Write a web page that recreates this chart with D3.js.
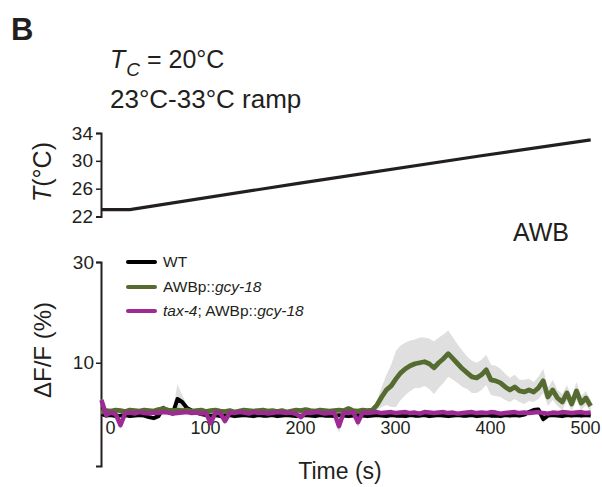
<!DOCTYPE html>
<html>
<head>
<meta charset="utf-8">
<script src="https://cdn.jsdelivr.net/npm/d3@7"></script>
<style>
  body { margin: 0; background: #fff; }
  text { font-family: "Liberation Sans", Arial, sans-serif; fill: #231f20; }
</style>
</head>
<body>
<div id="chart"></div>
<script>
// ====================
// Data
// ====================

// sample times (s), one frame every 5 s
const time = [-9, -4, 1, 6, 11, 16, 21, 26, 31, 36, 41, 46, 51, 56, 61, 66, 71, 76, 81, 86,
  91, 96, 101, 106, 111, 116, 121, 126, 131, 136, 141, 146, 151, 156, 161, 166, 171, 176, 181, 186,
  191, 196, 201, 206, 211, 216, 221, 226, 231, 236, 241, 246, 251, 256, 261, 266, 271, 276, 281, 286,
  291, 296, 301, 306, 311, 316, 321, 326, 331, 336, 341, 346, 351, 356, 361, 366, 371, 376, 381, 386,
  391, 396, 401, 406, 411, 416, 421, 426, 431, 436, 441, 446, 451, 456, 461, 466, 471, 476, 481, 486,
  491, 496, 501, 506];

// mean dF/F (%)
const wt = [-0.2, -0.5, -0.4, -0.6, -0.5, -0.4, -0.6, -0.5, -0.4, -0.5,
  -0.8, -1.0, -0.6, 1.0, 0.2, -0.1, 2.8, 2.2, 1.0, 0.5,
  0.1, -0.2, -0.4, -0.5, -0.4, -0.6, -0.5, -0.4, -0.6, -0.5,
  -0.4, -0.5, -0.6, -0.4, -0.5, -0.5, -0.4, -0.6, -0.5, -0.4,
  -0.5, -0.6, -0.5, -0.4, -0.5, -0.6, -0.4, -0.5, -0.5, -0.6,
  -0.4, -0.5, -0.6, -0.5, -0.4, -0.5, -0.6, -0.5, -0.4, -0.5,
  -0.6, -0.4, -0.5, -0.5, -0.6, -0.4, -0.5, -0.5, -0.4, -0.6,
  -0.5, -0.4, -0.5, -0.6, -0.5, -0.4, -0.5, -0.5, -0.4, -0.6,
  -0.5, -0.4, -0.5, -0.5, -0.6, -0.4, -0.5, -0.4, -0.5, -0.3,
  0.2, 0.6, 0.7, -1.2, -0.5, -0.4, -0.5, -0.6, -0.4, -0.5,
  -0.4, -0.5, -0.4, -0.5];
const gcy18 = [0.2, 0.5, 0.4, 0.6, 0.5, 0.3, 0.6, 0.5, 0.4, 0.6,
  0.5, 0.4, 0.7, 0.9, 0.6, 0.5, 0.6, 0.5, 0.6, 0.4,
  0.5, 0.6, 0.3, 0.5, 0.6, 0.4, 0.3, 0.5, 0.2, 0.4,
  0.6, 0.5, 0.4, 0.5, 0.6, 0.4, 0.5, 0.3, 0.5, 0.2,
  0.4, 0.6, 0.5, 0.7, 0.5, 0.4, 0.6, 0.5, 0.4, 0.5,
  0.6, 0.5, 0.9, 0.5, 0.4, 0.6, 0.5, 0.6, 1.6, 3.2,
  4.6, 5.4, 6.8, 8.0, 8.8, 9.4, 9.8, 10.0, 10.2, 9.8,
  9.0, 10.0, 10.8, 11.8, 10.8, 9.8, 8.8, 8.0, 7.2, 7.0,
  7.6, 8.6, 6.6, 6.4, 6.0, 5.2, 4.6, 5.2, 4.4, 4.2,
  4.6, 4.2, 5.0, 6.4, 3.2, 4.6, 3.0, 2.2, 4.0, 1.8,
  4.4, 2.0, 3.0, 1.4];
const tax4 = [2.6, -0.4, 0.1, -0.2, -2.4, 0.0, 0.1, -0.1, 0.2, 0.0,
  -0.1, 0.1, 0.0, 0.2, 0.1, -0.1, 0.0, 0.1, 0.2, 0.0,
  0.1, -0.1, 0.0, -2.0, 0.1, 0.0, -1.6, 0.1, 0.0, 0.2,
  0.1, -0.1, 0.2, 0.0, 0.1, -0.1, 0.0, 0.2, 0.1, 0.0,
  0.1, -0.2, -0.8, 0.1, 0.0, 0.2, 0.1, -0.1, 0.0, 0.1,
  -2.6, 0.1, 0.0, 0.2, -1.8, 0.1, 0.0, 0.1, 0.2, 0.0,
  0.1, 0.2, 0.0, 0.1, 0.2, 0.0, 0.1, -0.1, 0.2, 0.1,
  0.0, 0.1, 0.2, 0.0, 0.1, -0.1, 0.0, 0.1, 0.2, 0.0,
  0.1, 0.0, 0.2, 0.1, -0.1, 0.0, 0.1, 0.2, 0.0, 0.1,
  0.0, 0.1, 0.2, 0.0, -0.1, 0.1, 0.0, 0.2, 0.1, 0.0,
  0.1, 0.2, 0.0, 0.1];

// SEM half widths
const wtSem = [0.4, 0.4, 0.4, 0.4, 0.4, 0.4, 0.4, 0.4, 0.4, 0.4,
  0.4, 0.4, 0.4, 0.8, 0.4, 0.4, 3.0, 1.4, 0.6, 0.4,
  0.4, 0.4, 0.4, 0.4, 0.4, 0.4, 0.4, 0.4, 0.4, 0.4,
  0.4, 0.4, 0.4, 0.4, 0.4, 0.4, 0.4, 0.4, 0.4, 0.4,
  0.4, 0.4, 0.4, 0.4, 0.4, 0.4, 0.4, 0.4, 0.4, 0.4,
  0.4, 0.4, 0.4, 0.4, 0.4, 0.4, 0.4, 0.4, 0.4, 0.4,
  0.4, 0.4, 0.4, 0.4, 0.4, 0.4, 0.4, 0.4, 0.4, 0.4,
  0.4, 0.4, 0.4, 0.4, 0.4, 0.4, 0.4, 0.4, 0.4, 0.4,
  0.4, 0.4, 0.4, 0.4, 0.4, 0.4, 0.4, 0.4, 0.4, 0.4,
  0.4, 0.5, 0.5, 0.6, 0.4, 0.4, 0.4, 0.4, 0.4, 0.4,
  0.4, 0.4, 0.4, 0.4];
const gcy18Sem = [0.3, 0.3, 0.3, 0.3, 0.3, 0.3, 0.3, 0.3, 0.3, 0.3,
  0.3, 0.3, 0.3, 0.4, 0.3, 0.3, 0.3, 0.3, 0.3, 0.3,
  0.3, 0.3, 0.3, 0.3, 0.3, 0.3, 0.3, 0.3, 0.3, 0.3,
  0.3, 0.3, 0.3, 0.3, 0.3, 0.3, 0.3, 0.3, 0.3, 0.3,
  0.3, 0.3, 0.3, 0.3, 0.3, 0.3, 0.3, 0.3, 0.3, 0.3,
  0.3, 0.3, 0.4, 0.3, 0.3, 0.3, 0.3, 0.4, 1.0, 2.0,
  3.0, 4.2, 5.6, 5.4, 5.2, 5.0, 4.8, 5.0, 4.8, 5.0,
  5.2, 5.0, 4.8, 4.6, 4.2, 3.8, 3.6, 3.2, 3.2, 3.0,
  3.0, 3.0, 3.0, 3.0, 2.8, 2.6, 2.4, 2.4, 2.2, 2.4,
  2.2, 2.0, 2.2, 2.4, 1.8, 2.0, 1.6, 1.6, 1.6, 1.4,
  1.8, 1.4, 1.4, 1.2];
const tax4Sem = [0.3, 0.3, 0.3, 0.3, 0.8, 0.3, 0.3, 0.3, 0.3, 0.3,
  0.3, 0.3, 0.3, 0.3, 0.3, 0.3, 0.3, 0.3, 0.3, 0.3,
  0.3, 0.3, 0.3, 0.8, 0.3, 0.3, 0.6, 0.3, 0.3, 0.3,
  0.3, 0.3, 0.3, 0.3, 0.3, 0.3, 0.3, 0.3, 0.3, 0.3,
  0.3, 0.3, 0.4, 0.3, 0.3, 0.3, 0.3, 0.3, 0.3, 0.3,
  1.4, 0.3, 0.3, 0.3, 1.2, 0.3, 0.3, 0.3, 0.3, 0.3,
  0.3, 0.3, 0.3, 0.3, 0.3, 0.3, 0.3, 0.3, 0.3, 0.3,
  0.3, 0.3, 0.3, 0.3, 0.3, 0.3, 0.3, 0.3, 0.3, 0.3,
  0.3, 0.3, 0.3, 0.3, 0.3, 0.3, 0.3, 0.3, 0.3, 0.3,
  0.3, 0.3, 0.3, 0.3, 0.3, 0.3, 0.3, 0.3, 0.3, 0.3,
  0.3, 0.3, 0.3, 0.3];

// temperature ramp (top panel)
const rampTime = [-9, 21, 200, 389, 506];
const rampTemp = [23, 23, 26.8, 30.7, 33];

// tick labels
const tempTicks = [22, 26, 30, 34];
const dffTicks = [10, 30];
const timeTicks = [0, 100, 200, 300, 400, 500];

const seriesColors = ["#000000", "#556b2f", "#9e2a94"];

// ========================
// Layout
// ========================
const width = 602, height = 487;
const svg = d3.select("#chart").append("svg")
  .attr("width", width).attr("height", height);

const x = d3.scaleLinear().domain([0, 500]).range([110, 585]);
const yT = d3.scaleLinear().domain([22, 34]).range([216.5, 133]);
const yF = d3.scaleLinear().domain([-10.5, 30]).range([466, 262]);

// panel letter and headings
svg.append("text").attr("x", 11).attr("y", 40)
  .style("font-size", "31px").style("font-weight", "bold").text("B");

const tc = svg.append("text").attr("x", 110).attr("y", 68).style("font-size", "25px");
tc.append("tspan").style("font-style", "italic").text("T");
tc.append("tspan").style("font-style", "italic").style("font-size", "19px")
  .attr("dx", 1).attr("dy", 8).text("C");
tc.append("tspan").attr("dy", -8).text(" = 20°C");

svg.append("text").attr("x", 110).attr("y", 108)
  .style("font-size", "26px").text("23°C-33°C ramp");

// ========================
// Top panel: temperature
// ========================
const yTAxis = svg.append("g")
  .attr("transform", "translate(101,0)")
  .call(d3.axisLeft(yT).tickValues(tempTicks).tickSize(5).tickSizeOuter(5).tickPadding(3));
yTAxis.select(".domain").attr("stroke", "#231f20").attr("stroke-width", 2);
yTAxis.selectAll(".tick line").attr("stroke", "#231f20").attr("stroke-width", 1.5);
yTAxis.selectAll(".tick text").style("font-size", "19px")
  .style("font-family", "Liberation Sans, Arial, sans-serif").attr("fill", "#231f20");

const ramp = rampTime.map((t, i) => [t, rampTemp[i]]);
svg.append("path").datum(ramp)
  .attr("fill", "none").attr("stroke", "#231f20").attr("stroke-width", 3.2)
  .attr("d", d3.line().x(d => x(d[0])).y(d => yT(d[1])));

const tl = svg.append("text")
  .attr("transform", "translate(51,172) rotate(-90)")
  .attr("text-anchor", "middle").style("font-size", "25px");
tl.append("tspan").style("font-style", "italic").text("T");
tl.append("tspan").text("(°C)");

svg.append("text").attr("x", 513).attr("y", 241)
  .style("font-size", "25px").text("AWB");

// ========================
// Bottom panel: dF/F traces
// ========================
const yFAxis = svg.append("g")
  .attr("transform", "translate(101,0)")
  .call(d3.axisLeft(yF).tickValues(dffTicks).tickSize(5).tickSizeOuter(5).tickPadding(2));
yFAxis.select(".domain").attr("stroke", "#231f20").attr("stroke-width", 2);
yFAxis.selectAll(".tick line").attr("stroke", "#231f20").attr("stroke-width", 1.5);
yFAxis.selectAll(".tick text").style("font-size", "19px")
  .style("font-family", "Liberation Sans, Arial, sans-serif").attr("fill", "#231f20");

const xAxis = svg.append("g")
  .attr("transform", "translate(0,419)")
  .call(d3.axisBottom(x).tickValues(timeTicks).tickSize(0).tickPadding(2));
xAxis.select(".domain").remove();
xAxis.selectAll(".tick text").style("font-size", "18px")
  .style("font-family", "Liberation Sans, Arial, sans-serif").attr("fill", "#231f20");

svg.append("text")
  .attr("transform", "translate(51,350) rotate(-90)")
  .attr("text-anchor", "middle").style("font-size", "24px").text("ΔF/F (%)");

svg.append("text").attr("x", 340).attr("y", 479)
  .attr("text-anchor", "middle").style("font-size", "23px").text("Time (s)");

const series = [
  { mean: wt, sem: wtSem, color: seriesColors[0], w: 4 },
  { mean: gcy18, sem: gcy18Sem, color: seriesColors[1], w: 4.8 },
  { mean: tax4, sem: tax4Sem, color: seriesColors[2], w: 4.5 }
];

const band = d3.area()
  .x((d, i) => x(time[i]))
  .y0(d => yF(d[0] - d[1]))
  .y1(d => yF(d[0] + d[1]));

const trace = d3.line()
  .x((d, i) => x(time[i]))
  .y(d => yF(d));

series.forEach(s => {
  svg.append("path")
    .datum(s.mean.map((m, i) => [m, s.sem[i]]))
    .attr("fill", "#dcdcdc").attr("opacity", 0.9)
    .attr("d", band);
});

series.forEach(s => {
  svg.append("path").datum(s.mean)
    .attr("fill", "none").attr("stroke", s.color)
    .attr("stroke-width", s.w).attr("stroke-linejoin", "round")
    .attr("d", trace);
});

// ========================
// Legend
// ========================
const legendY = [262, 287, 311];
const leg = svg.append("g");
legendY.forEach((ly, i) => {
  leg.append("line").attr("x1", 128).attr("x2", 155).attr("y1", ly).attr("y2", ly)
    .attr("stroke", seriesColors[i]).attr("stroke-width", 4).attr("stroke-linecap", "round");
});
const l1 = leg.append("text").attr("x", 163).attr("y", legendY[0] + 5).style("font-size", "15.5px");
l1.text("WT");
const l2 = leg.append("text").attr("x", 163).attr("y", legendY[1] + 5).style("font-size", "15.5px");
l2.append("tspan").text("AWBp::");
l2.append("tspan").style("font-style", "italic").text("gcy-18");
const l3 = leg.append("text").attr("x", 163).attr("y", legendY[2] + 5).style("font-size", "15.5px");
l3.append("tspan").style("font-style", "italic").text("tax-4");
l3.append("tspan").text("; AWBp::");
l3.append("tspan").style("font-style", "italic").text("gcy-18");
</script>
</body>
</html>
